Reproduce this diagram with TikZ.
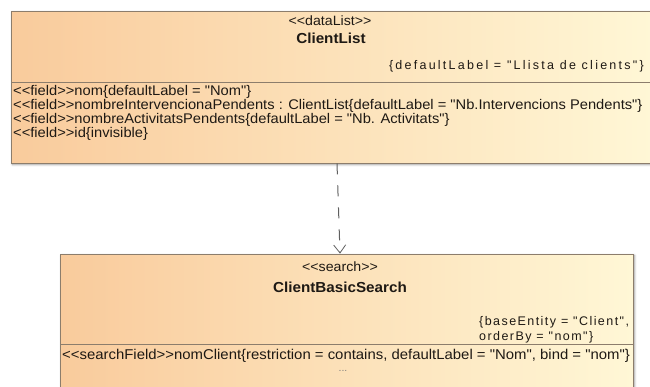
\documentclass[tikz,border=0pt]{standalone}
\usepackage{fontspec}
\setmainfont{Liberation Sans}[Ligatures=TeXOff, FakeStretch=1.05]
\newfontfamily\tagfont{Liberation Sans}[Ligatures=TeXOff, LetterSpace=18]
\newfontfamily\tagfontb{Liberation Sans}[Ligatures=TeXOff, LetterSpace=11.5]
\usetikzlibrary{arrows.meta,shadows.blur}
\definecolor{boxleft}{RGB}{249,203,156}
\definecolor{boxright}{RGB}{255,247,214}
\definecolor{boxline}{RGB}{140,125,108}
\definecolor{txt}{RGB}{30,25,20}
\tikzset{
  classbox/.style={draw=boxline, line width=0.8pt, shading=axis,
    left color=boxleft, right color=boxright, rectangle, inner sep=0pt,
    blur shadow={shadow xshift=1.5pt, shadow yshift=-1.5pt, shadow blur steps=4, shadow opacity=45}},
  divider/.style={draw=boxline, line width=0.7pt},
  stereo/.style={font=\fontsize{13.5}{15}\selectfont, text=txt, inner sep=0pt},
  cname/.style={font=\fontsize{14.5}{16}\selectfont\bfseries, text=txt, inner sep=0pt},
  member/.style={font=\fontsize{14}{16}\selectfont, text=txt, inner sep=0pt, anchor=west},
  tagval/.style={font=\tagfont\fontsize{12.5}{15}\selectfont, text=txt, inner sep=0pt, align=left},
  dependency/.style={draw={rgb,255:red,95;green,95;blue,95}, line width=1pt,
    dash pattern=on 11pt off 11pt, -{Straight Barb[length=8pt,width=12pt,line width=0.8pt]}}
}
\begin{document}
\begin{tikzpicture}[x=1pt,y=-1pt]
\useasboundingbox (0,0) rectangle (650,386);
\begin{scope}
\clip (0,0) rectangle (650,386);

% ClientList class
\node[classbox, minimum width=642pt, minimum height=152pt] (list) at (332,87) {};
\draw[divider] (11,82) -- (653,82);
\node[stereo] (listst) at (330,21) {<<dataList>>};
\node[cname] (listname) at (331,38) {ClientList};
\node[tagval, anchor=east] (listtag) at (644,66) {\{defaultLabel = "Llista de clients"\}};
\node[member] (f1) at (13,92) {<<field>>nom\{defaultLabel = "Nom"\}};
\node[member] (f2) at (13,106) {<<field>>nombreIntervencionaPendents : ClientList\{defaultLabel = "Nb.Intervencions Pendents"\}};
\node[member] (f3) at (13,120) {<<field>>nombreActivitatsPendents\{defaultLabel = "Nb. Activitats"\}};
\node[member] (f4) at (13,134) {<<field>>id\{invisible\}};

% ClientBasicSearch class
\node[classbox, minimum width=573pt, minimum height=160pt] (search) at (346.5,334) {};
\draw[divider] (60,344) -- (633,344);
\node[stereo] (searchst) at (340,267) {<<search>>};
\node[cname] (searchname) at (340,287) {ClientBasicSearch};
\node[tagval, font=\tagfontb\fontsize{12.5}{15}\selectfont, anchor=north west] (searchtag) at (479,316.5) {\{baseEntity = "Client",\\orderBy = "nom"\}};
\node[member, font=\fontsize{14.2}{16}\selectfont] (s1) at (62,356) {<<searchField>>nomClient\{restriction = contains, defaultLabel = "Nom", bind = "nom"\}};
\node[stereo, font=\fontsize{10}{12}\selectfont, text=txt!55] (more) at (343,371) {...};
\end{scope}

% dependency between the two classes
\draw[dependency] ([xshift=5pt]list.south) -- ([xshift=-6.5pt]search.north);
\end{tikzpicture}
\end{document}
